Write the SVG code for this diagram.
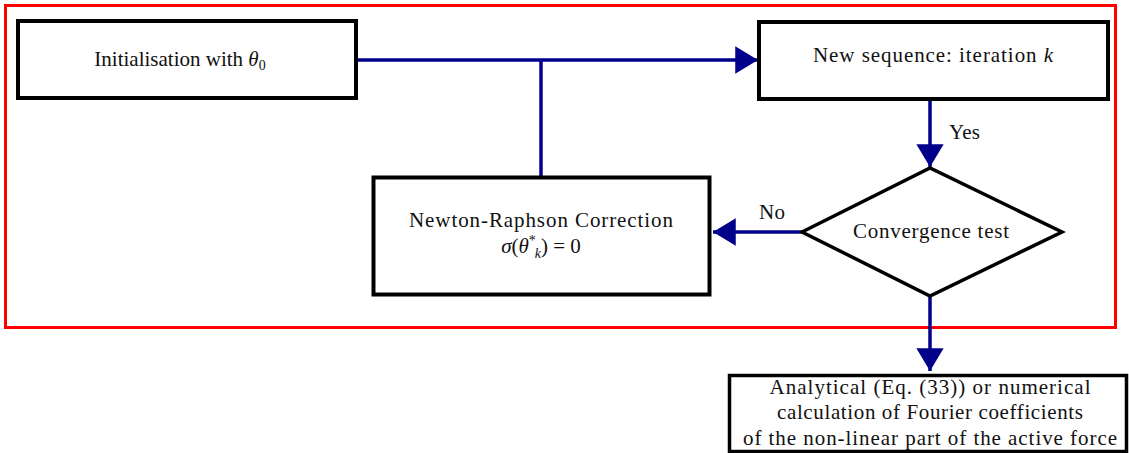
<svg xmlns="http://www.w3.org/2000/svg" width="1129" height="453" viewBox="0 0 1129 453">
<style>
.box{fill:#fff;stroke:#000;stroke-width:4}
.t{font-family:"Liberation Serif","DejaVu Serif",serif;font-size:21px;fill:#111;text-anchor:middle}
.i{font-style:italic}
.c{fill:none;stroke:#00008B;stroke-width:3.5}
</style>
<defs>
<marker id="ah" viewBox="0 0 10 12" refX="10" refY="6" markerWidth="6.5" markerHeight="7.8" markerUnits="strokeWidth" orient="auto">
<path d="M0,0 L10,6 L0,12 z" fill="#00008B"/>
</marker>
</defs>
<rect x="5.5" y="5.5" width="1110" height="322" fill="none" stroke="#FF0000" stroke-width="3"/>
<g id="connectors">
<path class="c" d="M356,60 H758" marker-end="url(#ah)"/>
<path class="c" d="M541,60 V177"/>
<path class="c" d="M930,99 V167" marker-end="url(#ah)"/>
<path class="c" d="M802,232 H713" marker-end="url(#ah)"/>
<path class="c" d="M930,296 V371" marker-end="url(#ah)"/>
<text class="t" x="964.5" y="139" textLength="31">Yes</text>
<text class="t" x="772" y="219" textLength="26">No</text>
</g>
<g id="init">
<rect class="box" x="18" y="21" width="338" height="77"/>
<text class="t" x="180" y="66">Initialisation with <tspan class="i">θ</tspan><tspan font-size="14" dy="4">0</tspan></text>
</g>
<g id="newseq">
<rect class="box" x="759" y="22" width="349" height="77"/>
<text class="t" x="933" y="62" textLength="240">New sequence: iteration <tspan class="i">k</tspan></text>
</g>
<g id="nr">
<rect class="box" x="373.5" y="177.5" width="336" height="117" stroke-width="5"/>
<text class="t" x="541" y="227" textLength="264">Newton-Raphson Correction</text>
<text class="t" x="541" y="253"><tspan class="i">σ</tspan>(<tspan class="i">θ</tspan><tspan font-size="14" dy="-8">*</tspan><tspan font-size="14" class="i" dx="-1" dy="13">k</tspan><tspan dy="-5">) = 0</tspan></text>
</g>
<g id="conv">
<path d="M802,232 L930,168 L1062,232 L930,296 Z" fill="#fff" stroke="#000" stroke-width="3.5"/>
<text class="t" x="931" y="238" textLength="156">Convergence test</text>
</g>
<g id="final">
<rect x="729.5" y="375.5" width="397" height="76" fill="#fff" stroke="#000" stroke-width="3.5"/>
<text class="t" x="930" y="394" textLength="321">Analytical (Eq. (33)) or numerical</text>
<text class="t" x="930" y="419" textLength="306">calculation of Fourier coefficients</text>
<text class="t" x="930" y="445" textLength="374">of the non-linear part of the active force</text>
</g>
</svg>
